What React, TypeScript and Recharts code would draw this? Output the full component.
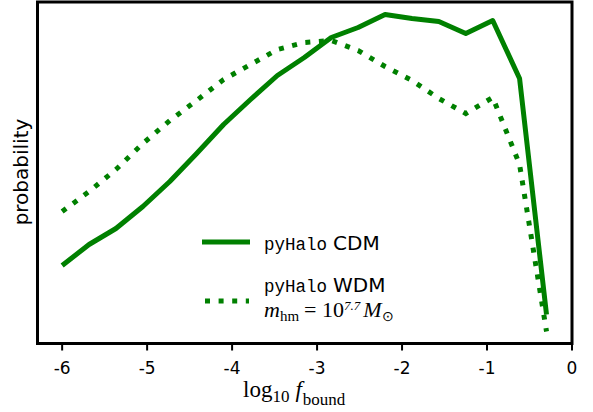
import React from 'react';
import { LineChart, Line, XAxis, YAxis, ReferenceArea } from 'recharts';

// log10 f_bound bin centres
const logF = [-6, -5.683, -5.367, -5.05, -4.733, -4.417, -4.1, -3.783, -3.467, -3.15, -2.833, -2.517, -2.2, -1.883, -1.567, -1.25, -0.933, -0.617, -0.3];

// probability (arbitrary normalisation)
const cdmProb = [0.078, 0.099, 0.115, 0.137, 0.162, 0.19, 0.219, 0.244, 0.268, 0.286, 0.306, 0.316, 0.329, 0.325, 0.322, 0.31, 0.323, 0.265, 0.029];
const wdmProb = [0.132, 0.152, 0.174, 0.2, 0.223, 0.243, 0.264, 0.279, 0.294, 0.301, 0.303, 0.293, 0.277, 0.263, 0.245, 0.23, 0.246, 0.179, 0.012];

const xTicks = [-6, -5, -4, -3, -2, -1, 0];
const xMin = -6.29;
const yMax = 0.3415;

const GREEN = '#008000';

const data = logF.map((x, i) => ({ x, cdm: cdmProb[i], wdm: wdmProb[i] }));

const Overlay: React.FC = () => (
  <svg
    width={593}
    height={412}
    style={{ position: 'absolute', left: 0, top: 0, pointerEvents: 'none' }}
  >
    {/* y label */}
    <text
      x={28}
      y={172}
      transform="rotate(-90, 28, 172)"
      textAnchor="middle"
      fontFamily="DejaVu Sans"
      fontSize={20}
      fill="#000"
    >
      probability
    </text>

    {/* x label */}
    <text x={243} y={397} fontFamily="Liberation Serif" fontSize={23} fill="#000">
      log
      <tspan fontSize={17} dy={5}>10</tspan>
      <tspan fontStyle="italic" fontSize={23} dy={-5} dx={6}>f</tspan>
      <tspan fontSize={17} dy={8} dx={1}>bound</tspan>
    </text>

    {/* legend */}
    <line x1={202} y1={242} x2={250} y2={242} stroke={GREEN} strokeWidth={5} />
    <text x={264} y={249.5} fill="#000">
      <tspan fontFamily="Liberation Mono" fontSize={17.5}>pyHalo</tspan>
      <tspan fontFamily="DejaVu Sans" fontSize={20} dx={6}>CDM</tspan>
    </text>

    <line x1={205} y1={301} x2={249} y2={301} stroke={GREEN} strokeWidth={5} strokeDasharray="5 8.6" />
    <text x={264} y={292} fill="#000">
      <tspan fontFamily="Liberation Mono" fontSize={17.5}>pyHalo</tspan>
      <tspan fontFamily="DejaVu Sans" fontSize={20} dx={6}>WDM</tspan>
    </text>
    <text x={264} y={317} fontFamily="Liberation Serif" fontSize={22} fill="#000">
      <tspan fontStyle="italic">m</tspan>
      <tspan fontSize={15} dy={4}>hm</tspan>
      <tspan dy={-4} dx={5}>= 10</tspan>
      <tspan fontSize={13} fontStyle="italic" dy={-7}>7.7</tspan>
      <tspan fontStyle="italic" dy={7} dx={3}>M</tspan>
      <tspan fontSize={14} dy={4}>⊙</tspan>
    </text>
  </svg>
);

const App: React.FC = () => {
  return (
    <div style={{ position: 'absolute', left: 0, top: 0, width: 593, height: 412, background: '#fff' }}>
      <LineChart
        width={593}
        height={412}
        data={data}
        margin={{ top: 2, right: 21, bottom: 0, left: 37.5 }}
      >
        <XAxis
          dataKey="x"
          type="number"
          domain={[xMin, 0]}
          ticks={xTicks}
          allowDataOverflow
          height={68.5}
          axisLine={false}
          tickSize={7}
          tickMargin={11}
          tickLine={{ stroke: '#000', strokeWidth: 2 }}
          tick={{ fill: '#000', fontSize: 17, fontFamily: 'DejaVu Sans' }}
        />
        <YAxis type="number" domain={[0, yMax]} hide allowDataOverflow />
        <ReferenceArea
          x1={xMin}
          x2={0}
          y1={0}
          y2={yMax}
          fill="none"
          fillOpacity={0}
          stroke="#000"
          strokeWidth={3}
          strokeOpacity={1}
        />
        <Line
          type="linear"
          dataKey="wdm"
          stroke={GREEN}
          strokeWidth={5}
          strokeDasharray="5 8.6"
          dot={false}
          isAnimationActive={false}
        />
        <Line
          type="linear"
          dataKey="cdm"
          stroke={GREEN}
          strokeWidth={5}
          strokeLinejoin="round"
          dot={false}
          isAnimationActive={false}
        />
      </LineChart>
      <Overlay />
    </div>
  );
};

export default App;
